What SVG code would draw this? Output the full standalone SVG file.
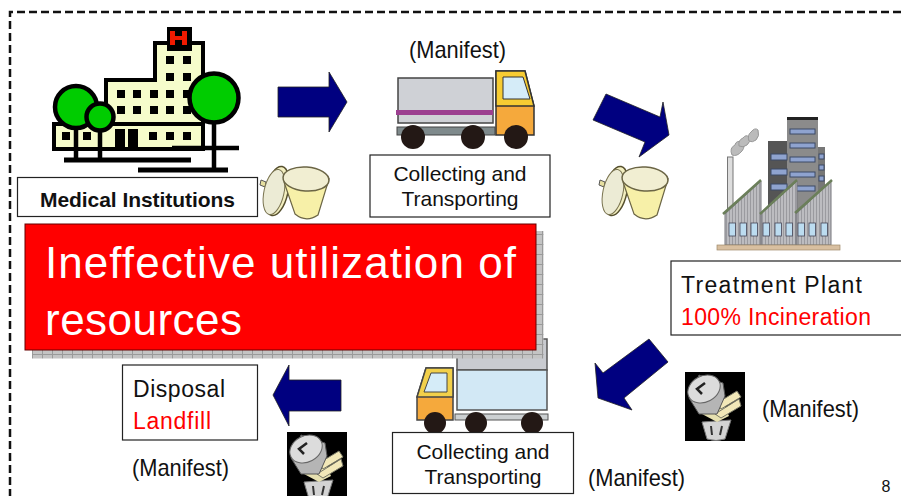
<svg xmlns="http://www.w3.org/2000/svg" width="901" height="496" viewBox="0 0 901 496">
<style>
text{font-family:"Liberation Sans",Arial,sans-serif;fill:#111;font-variant-ligatures:none}
.box{fill:#fff;stroke:#222;stroke-width:1.2}
.arrow{fill:#000080;stroke:#222;stroke-width:.8}
.win{fill:#000}
.b{fill:#f6fccb;stroke:#000;stroke-width:4}
.tree{fill:#00cc00;stroke:#000;stroke-width:4.5}
.m{font-size:24px}
.c{font-size:21px;text-anchor:middle}
.g{font-size:23px}
.w{fill:#8fa3cf;stroke:#3c4a66;stroke-width:1}
.fw{fill:#bcdcf0;stroke:#445;stroke-width:.8}
.wheel{fill:#231815}
</style>
<defs>
<pattern id="sh" width="10" height="10" patternUnits="userSpaceOnUse" patternTransform="translate(32 351)"><rect width="10" height="10" fill="#c4c4c4"/><path d="M.5 0V10" stroke="#9a9a9a" stroke-width="1"/><path d="M0 3.500H10" stroke="#9a9a9a" stroke-width="1"/></pattern>
<pattern id="st" width="3" height="10" patternUnits="userSpaceOnUse"><rect width="3" height="10" fill="#bcbcc0"/><path d="M.5 0V10" stroke="#9a9a9f" stroke-width="1"/></pattern>
<g id="can">
<path d="M1 15l5 2-1 5-5-2z" fill="#e6dfa0" stroke="#555" stroke-width="1"/>
<ellipse cx="17" cy="26" rx="11" ry="25" transform="rotate(12 17 26)" fill="#f3efc0" stroke="#554f2d" stroke-width="1.500"/>
<ellipse cx="14" cy="27" rx="10" ry="23" transform="rotate(12 14 27)" fill="#ecebd5" stroke="#7a7450" stroke-width="1"/>
<path d="M24 17L35 49Q46 58 58 50L69 14Z" fill="#f7f0a8" stroke="#6b6545" stroke-width="1.200"/>
<ellipse cx="46" cy="14" rx="23" ry="12" transform="rotate(4 46 14)" fill="#f1eed2" stroke="#6b6545" stroke-width="1.500"/>
</g>
<g id="trash">
<rect width="60" height="69" fill="#000"/>
<path d="M17 50L22 67Q31 70 40 67L46 48Z" fill="#d3d3d3" stroke="#777" stroke-width="1"/>
<path d="M26 54l1 9M37 54l-2 9" stroke="#333" stroke-width="2"/>
<path d="M17 42L32 50L44 44L38 30Z" fill="#e6e0b0"/>
<path d="M32 31L52 19L56 25L36 37Z" fill="#f2e8b8" stroke="#776" stroke-width="1"/>
<path d="M30 42L54 27L56 34L36 46Z" fill="#f2e8b8" stroke="#776" stroke-width="1"/>
<path d="M4 26L14 3L38 11L40 24L32 42L14 42Z" fill="#b5b5b5" stroke="#555" stroke-width="1"/>
<ellipse cx="19" cy="17" rx="17" ry="13" transform="rotate(-28 19 17)" fill="#dcdcdc" stroke="#666" stroke-width="1"/>
<path d="M20 11L12 17L17 22" fill="none" stroke="#222" stroke-width="2.500"/>
</g>
</defs>

<path d="M901 12H10V496" fill="none" stroke="#111" stroke-width="2.500" stroke-dasharray="8 4"/>

<g id="hospital">
<rect class="b" x="155" y="43" width="48" height="90"/>
<rect class="b" x="106" y="80" width="97" height="50"/>
<rect class="b" x="54" y="124" width="149" height="25"/>
<rect x="157" y="45" width="44" height="60" fill="#f6fccb"/>
<rect x="108" y="82" width="93" height="39" fill="#f6fccb"/>
<rect x="167" y="27" width="25" height="24" fill="#000"/>
<path d="M170 31h5v5h7v-5h5v14h-5v-5h-7v5h-5z" fill="#f21a00"/>
<g class="win">
<rect x="166" y="56" width="8" height="8"/><rect x="183" y="56" width="8" height="8"/>
<rect x="166" y="73" width="8" height="8"/><rect x="183" y="73" width="8" height="8"/>
<rect x="117" y="90" width="8" height="8"/><rect x="133" y="90" width="8" height="8"/><rect x="150" y="90" width="8" height="8"/><rect x="166" y="90" width="8" height="8"/><rect x="183" y="90" width="8" height="8"/>
<rect x="117" y="106" width="8" height="8"/><rect x="133" y="106" width="8" height="8"/><rect x="150" y="106" width="8" height="8"/><rect x="166" y="106" width="8" height="8"/><rect x="183" y="106" width="8" height="8"/>
<rect x="62" y="132" width="8" height="8"/><rect x="83" y="132" width="8" height="8"/>
<rect x="115" y="129" width="10" height="18"/><rect x="128" y="129" width="10" height="18"/>
<rect x="149" y="132" width="8" height="8"/><rect x="166" y="132" width="8" height="8"/><rect x="183" y="132" width="8" height="8"/>
</g>
<path d="M172 148H239M76 126V158M100 130V158M214 122V168" stroke="#000" stroke-width="4.500" fill="none"/>
<path d="M64 160H191M138 170H228" stroke="#000" stroke-width="5" fill="none"/>
<circle class="tree" cx="76" cy="107" r="21"/>
<circle class="tree" cx="100" cy="117" r="13.500"/>
<circle class="tree" cx="214" cy="98" r="24.500"/>
</g>

<g id="medical-institutions">
<rect class="box" x="17.500" y="177.500" width="240" height="39"/>
<text x="40" y="207" font-size="21" font-weight="700" textLength="195" lengthAdjust="spacing">Medical Institutions</text>
</g>
<use id="can-1" href="#can" x="260" y="165"/>

<g id="truck-1">
<rect x="398" y="78" width="95" height="45" fill="#cfd1d6" stroke="#444" stroke-width="1.500"/>
<rect x="396" y="110" width="97" height="5" fill="#9c3f90"/>
<rect x="397" y="127" width="98" height="8" fill="#7f8a8c" stroke="#444" stroke-width="1"/>
<path d="M496 71H525L534 106V135H496Z" fill="#f5a93c" stroke="#333" stroke-width="1.500"/>
<path d="M496 71H525L534 106H496Z" fill="#f7cc33" stroke="#333" stroke-width="1.500"/>
<path d="M503 77H523L530 99H503Z" fill="#d5ecf8" stroke="#333" stroke-width="1"/>
<circle class="wheel" cx="413" cy="137" r="12"/>
<circle class="wheel" cx="473" cy="137" r="12"/>
<circle class="wheel" cx="516" cy="137" r="12"/>
</g>
<text class="m" x="409" y="58" textLength="97" lengthAdjust="spacingAndGlyphs">(Manifest)</text>
<g id="collecting-1">
<rect class="box" x="370" y="155" width="180" height="62"/>
<text class="c" x="460" y="181">Collecting and</text>
<text class="c" x="460" y="206">Transporting</text>
</g>
<use id="can-2" href="#can" x="599" y="165"/>

<g id="treatment-icon">
<rect x="787" y="118" width="31" height="130" fill="#8b8b8b"/>
<rect x="787" y="117" width="31" height="3" fill="#222"/>
<rect x="768" y="141" width="19" height="70" fill="#555"/>
<rect x="818" y="147" width="7" height="50" fill="#777"/>
<g class="w">
<rect x="790" y="129" width="25" height="5"/><rect x="790" y="143" width="25" height="5"/><rect x="790" y="157" width="25" height="5"/><rect x="790" y="172" width="25" height="5"/><rect x="790" y="186" width="25" height="5"/>
<rect x="771" y="154" width="16" height="6"/><rect x="771" y="169" width="16" height="6"/><rect x="771" y="184" width="16" height="6"/>
<rect x="819" y="154" width="5" height="5"/><rect x="819" y="165" width="5" height="5"/><rect x="819" y="176" width="5" height="5"/>
</g>
<rect x="727.500" y="157" width="5.500" height="58" fill="#ddd" stroke="#777" stroke-width="1"/>
<path d="M732 155q-3-7 3-10q1-5 7-3q4 4 0 9q-5 6-10 4z" fill="#bbb" stroke="#999" stroke-width="1"/>
<path d="M739 146q-1-6 4-8q3-4 6-1q2 5-2 8q-4 3-8 1z" fill="#bbb" stroke="#999" stroke-width="1"/>
<path d="M749 141q-2-6 2-9q4-5 7-2q2 6-2 10q-4 3-7 1z" fill="#bbb" stroke="#999" stroke-width="1"/>
<path d="M725 214L761 181V245H725ZM761 214L797 181V245H761ZM796 214L831 181V245H796Z" fill="url(#st)" stroke="#77777c" stroke-width="1"/>
<path d="M723 214L761 180M760 214L797 180M795 213L832 180" stroke="#6b7f5a" stroke-width="2.500" fill="none"/>
<g class="fw">
<rect x="729" y="223" width="6.500" height="13"/><rect x="740" y="223" width="6.500" height="13"/><rect x="751" y="223" width="6.500" height="13"/><rect x="763" y="223" width="6.500" height="13"/><rect x="775" y="223" width="6.500" height="13"/><rect x="786" y="223" width="6.500" height="13"/><rect x="798" y="223" width="6.500" height="13"/><rect x="809" y="223" width="6.500" height="13"/><rect x="821" y="223" width="6.500" height="13"/>
</g>
<rect x="717" y="245" width="123" height="5" fill="#d8bfa0" stroke="#a08a6a" stroke-width=".7"/>
</g>
<g id="treatment-plant">
<rect class="box" x="671" y="261" width="240" height="74"/>
<text class="g" x="681" y="293" textLength="181" lengthAdjust="spacing">Treatment Plant</text>
<text class="g" x="681" y="325" textLength="190" lengthAdjust="spacing" style="fill:#f00">100% Incineration</text>
</g>

<g id="connectors">
<path class="arrow" d="M278 87H329V72L347 102L329 132V117H278Z"/>
<path class="arrow" d="M606 94L660 117L663 102L669 135L639 157L645 142L593 120Z"/>
<path class="arrow" d="M649 339L668 362L624 398L632 410L598 398L595 363L603 373Z"/>
<path class="arrow" d="M341 380H289V365L273 395L289 426V411H341Z"/>
</g>

<g id="truck-2">
<rect x="457" y="339" width="90" height="31" fill="#c9cbd0" stroke="#555" stroke-width="1.500"/>
<rect x="457" y="370" width="90" height="40" fill="#d2e8f5" stroke="#555" stroke-width="1.500"/>
<rect x="455" y="414" width="93" height="6" fill="#ccd0d2" stroke="#555" stroke-width="1"/>
<path d="M453 368H426L417 397V420H453Z" fill="#f5a93c" stroke="#444" stroke-width="1.500"/>
<path d="M453 368H426L417 397H453Z" fill="#f2d04a" stroke="#444" stroke-width="1.500"/>
<path d="M447 373H431L424 392H447Z" fill="#d5ecf8" stroke="#444" stroke-width="1"/>
<circle class="wheel" cx="435" cy="423" r="11"/>
<circle class="wheel" cx="476" cy="423" r="11"/>
<circle class="wheel" cx="532" cy="423" r="11"/>
</g>

<g id="banner">
<rect x="32" y="231" width="511.500" height="127.500" fill="url(#sh)"/>
<rect x="25" y="224" width="511" height="126" fill="#f00" stroke="#600" stroke-width="1"/>
<text x="45" y="278" font-size="44" style="fill:#fff" textLength="471" lengthAdjust="spacing">Ineffective utilization of</text>
<text x="45" y="335" font-size="44" style="fill:#fff" textLength="197" lengthAdjust="spacing">resources</text>
</g>

<g id="collecting-2">
<rect class="box" x="392.500" y="432.500" width="181" height="61"/>
<text class="c" x="483" y="459">Collecting and</text>
<text class="c" x="483" y="484">Transporting</text>
</g>
<text class="m" x="588" y="486" textLength="97" lengthAdjust="spacingAndGlyphs">(Manifest)</text>
<use id="trash-1" href="#trash" x="685" y="372"/>
<text class="m" x="762" y="417" textLength="97" lengthAdjust="spacingAndGlyphs">(Manifest)</text>

<g id="disposal">
<rect class="box" x="122.500" y="365" width="135" height="75"/>
<text class="g" x="133" y="397" textLength="92" lengthAdjust="spacing">Disposal</text>
<text class="g" x="133" y="429" textLength="78" lengthAdjust="spacing" style="fill:#f00">Landfill</text>
</g>
<text class="m" x="132" y="476" textLength="97" lengthAdjust="spacingAndGlyphs">(Manifest)</text>
<use id="trash-2" href="#trash" x="287" y="432"/>
<text x="886" y="492" font-size="16" text-anchor="middle">8</text>
</svg>
